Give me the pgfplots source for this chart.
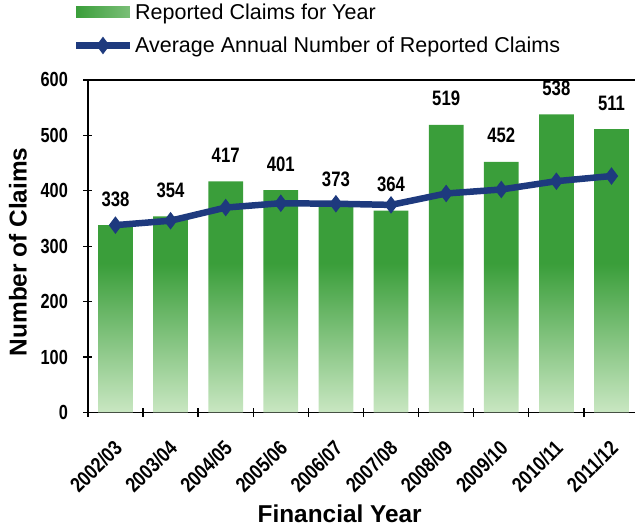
\documentclass[border=0pt]{standalone}
\usepackage{fontspec}
\setmainfont{Liberation Sans}
\newfontfamily\nb{Liberation Sans}[FakeStretch=0.8]
\newfontfamily\nbx{Liberation Sans}[FakeStretch=0.83]
\usepackage{pgfplots}
\pgfplotsset{compat=1.18}
\definecolor{barG}{HTML}{3A9E3A}
\definecolor{barL}{HTML}{C9E7C2}
\definecolor{navy}{HTML}{1E3A7E}
\pgfplotsset{lineleg/.style={legend image code/.code={\draw[mark repeat=2,mark phase=2,##1] plot coordinates {(0bp,0bp) (27bp,0bp) (54bp,0bp)};}}}
\begin{document}
\begin{tikzpicture}
\path (-88bp,-117bp) rectangle (548bp,413bp);
\begin{axis}[
  at={(0,0)}, anchor=south west, scale only axis,
  width=548bp, height=333bp,
  xmin=-0.5, xmax=9.43, ymin=0, ymax=600,
  axis x line*=bottom, axis y line*=left,
  axis line style={line width=1.6bp,-},
  tick style={black, line width=1.3bp},
  tick align=center, major tick length=9bp, minor tick length=9bp,
  /pgf/number format/assume math mode=true,
  ytick={0,100,...,600},
  yticklabel style={font=\nb\bfseries\fontsize{20.5}{20.5}\selectfont, xshift=-12bp},
  xtick={0,...,9},
  xticklabels={2002/03,2003/04,2004/05,2005/06,2006/07,2007/08,2008/09,2009/10,2010/11,2011/12},
  major x tick style={draw=none},
  minor xtick={-0.5,0.5,...,8.5},
  xticklabel style={rotate=45, anchor=north east, font=\nbx\bfseries\fontsize{21}{21}\selectfont, xshift=-14bp, yshift=-10bp},
  xlabel={Financial Year},
  ylabel={Number of Claims},
  xlabel style={at={(axis description cs:0.46,-0.306)}, anchor=center, font=\bfseries\fontsize{24.5}{24.5}\selectfont},
  ylabel style={at={(axis description cs:-0.128,0.483)}, anchor=center, font=\bfseries\fontsize{24.5}{24.5}\selectfont},
  legend style={at={(axis description cs:-0.028,1.235)}, anchor=north west, draw=none, fill=none,
    font=\fontsize{21.6}{21.6}\selectfont, inner sep=0pt, row sep=12bp,
    cells={anchor=west}},
  clip=false,
]
\addplot[ybar, bar width=0.63, draw=none, top color=barG, bottom color=barL, middle color=barG,
  nodes near coords,
  every node near coord/.append style={font=\nb\bfseries\fontsize{21}{21}\selectfont, anchor=base, yshift=19bp, inner sep=0pt},
  legend image code/.code={\shade[left color=barG, right color=barG!55!barL] (0bp,-5bp) rectangle (54bp,6bp);}]
  coordinates {(0,338) (1,354) (2,417) (3,401) (4,373) (5,364) (6,519) (7,452) (8,538) (9,511)};
\addlegendentry{Reported Claims for Year}
\addplot[navy, line width=6.5bp, mark=diamond*, mark size=8bp, mark options={line width=1bp, fill=navy}, lineleg]
  coordinates {(0,338) (1,346) (2,369.7) (3,377.5) (4,376.6) (5,374.5) (6,395.1) (7,402.3) (8,417.3) (9,426.6)};
\addlegendentry{Average Annual Number of Reported Claims}
\draw[line width=1.3bp] (rel axis cs:0,1) -- (rel axis cs:1,1);
\end{axis}
\end{tikzpicture}
\end{document}
